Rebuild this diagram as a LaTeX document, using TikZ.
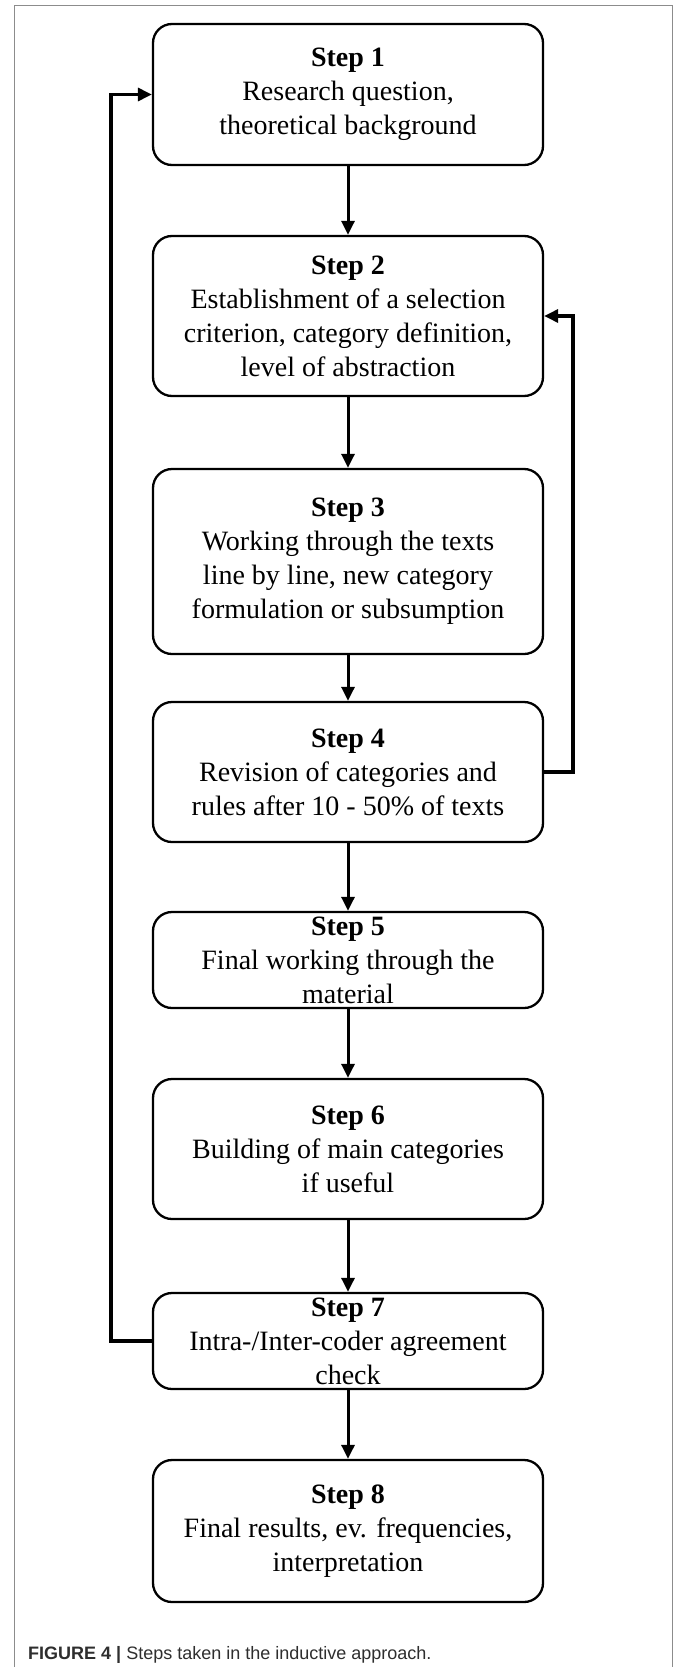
\documentclass[tikz,border=0pt]{standalone}
\usepackage{fontspec}
\setmainfont{Liberation Serif}
\setsansfont{Liberation Sans}
\usetikzlibrary{arrows.meta}
\definecolor{framegray}{HTML}{8C8C8C}
\definecolor{captext}{HTML}{2E2E2E}
\begin{document}
\begin{tikzpicture}[x=1pt,y=-1pt,
  stepbox/.style={draw=black, line width=2.3pt, rounded corners=19pt, minimum width=390pt, inner sep=0pt},
  steptext/.style={align=center, inner sep=0pt, font=\fontsize{28}{34}\selectfont},
  varrow/.style={line width=3pt, -{Triangle[length=14pt,width=13pt]}},
  looparrow/.style={line width=3.2pt, line join=miter, -{Triangle[length=14pt,width=13pt]}}
]
\useasboundingbox (0,0) rectangle (674,1667);
\fill[white] (0,0) rectangle (674,1667);
\draw[framegray, line width=1pt] (14,1667) -- (14,6) -- (672.5,6) -- (672.5,1667);

\node[stepbox, minimum height=141pt] (s1) at (348,94.5) {};
\node[stepbox, minimum height=160pt] (s2) at (348,316) {};
\node[stepbox, minimum height=185pt] (s3) at (348,561.5) {};
\node[stepbox, minimum height=140pt] (s4) at (348,772) {};
\node[stepbox, minimum height=96pt] (s5) at (348,960) {};
\node[stepbox, minimum height=140pt] (s6) at (348,1149) {};
\node[stepbox, minimum height=96pt] (s7) at (348,1341) {};
\node[stepbox, minimum height=142pt] (s8) at (348,1531) {};

\node[steptext] (t1) at (s1) {\textbf{Step 1}\\Research question,\\theoretical background};
\node[steptext] (t2) at (s2) {\textbf{Step 2}\\Establishment of a selection\\criterion, category definition,\\level of abstraction};
\node[steptext] (t3) at (s3) {\textbf{Step 3}\\Working through the texts\\line by line, new category\\formulation or subsumption};
\node[steptext] (t4) at (s4) {\textbf{Step 4}\\Revision of categories and\\rules after 10 - 50\% of texts};
\node[steptext] (t5) at (s5) {\textbf{Step 5}\\Final working through the\\material};
\node[steptext] (t6) at (s6) {\textbf{Step 6}\\Building of main categories\\if useful};
\node[steptext] (t7) at (s7) {\textbf{Step 7}\\Intra-/Inter-coder agreement\\check};
\node[steptext] (t8) at (s8) {\textbf{Step 8}\\Final results, ev. frequencies,\\interpretation};

\draw[varrow] (s1) -- (s2);
\draw[varrow] (s2) -- (s3);
\draw[varrow] (s3) -- (s4);
\draw[varrow] (s4) -- (s5);
\draw[varrow] (s5) -- (s6);
\draw[varrow] (s6) -- (s7);
\draw[varrow] (s7) -- (s8);

\coordinate (rl) at (573,0);
\coordinate (ll) at (111,0);
\draw[looparrow] (s4.east) -- (s4.east -| rl) |- (s2.east);
\draw[looparrow] (s7.west) -- (s7.west -| ll) |- (s1.west);

\node[anchor=base west, inner sep=0pt, text=captext, font=\sffamily\fontsize{18}{20}\selectfont] (cap) at (28,1659)
  {\textbf{FIGURE 4 |} Steps taken in the inductive approach.};
\end{tikzpicture}
\end{document}
